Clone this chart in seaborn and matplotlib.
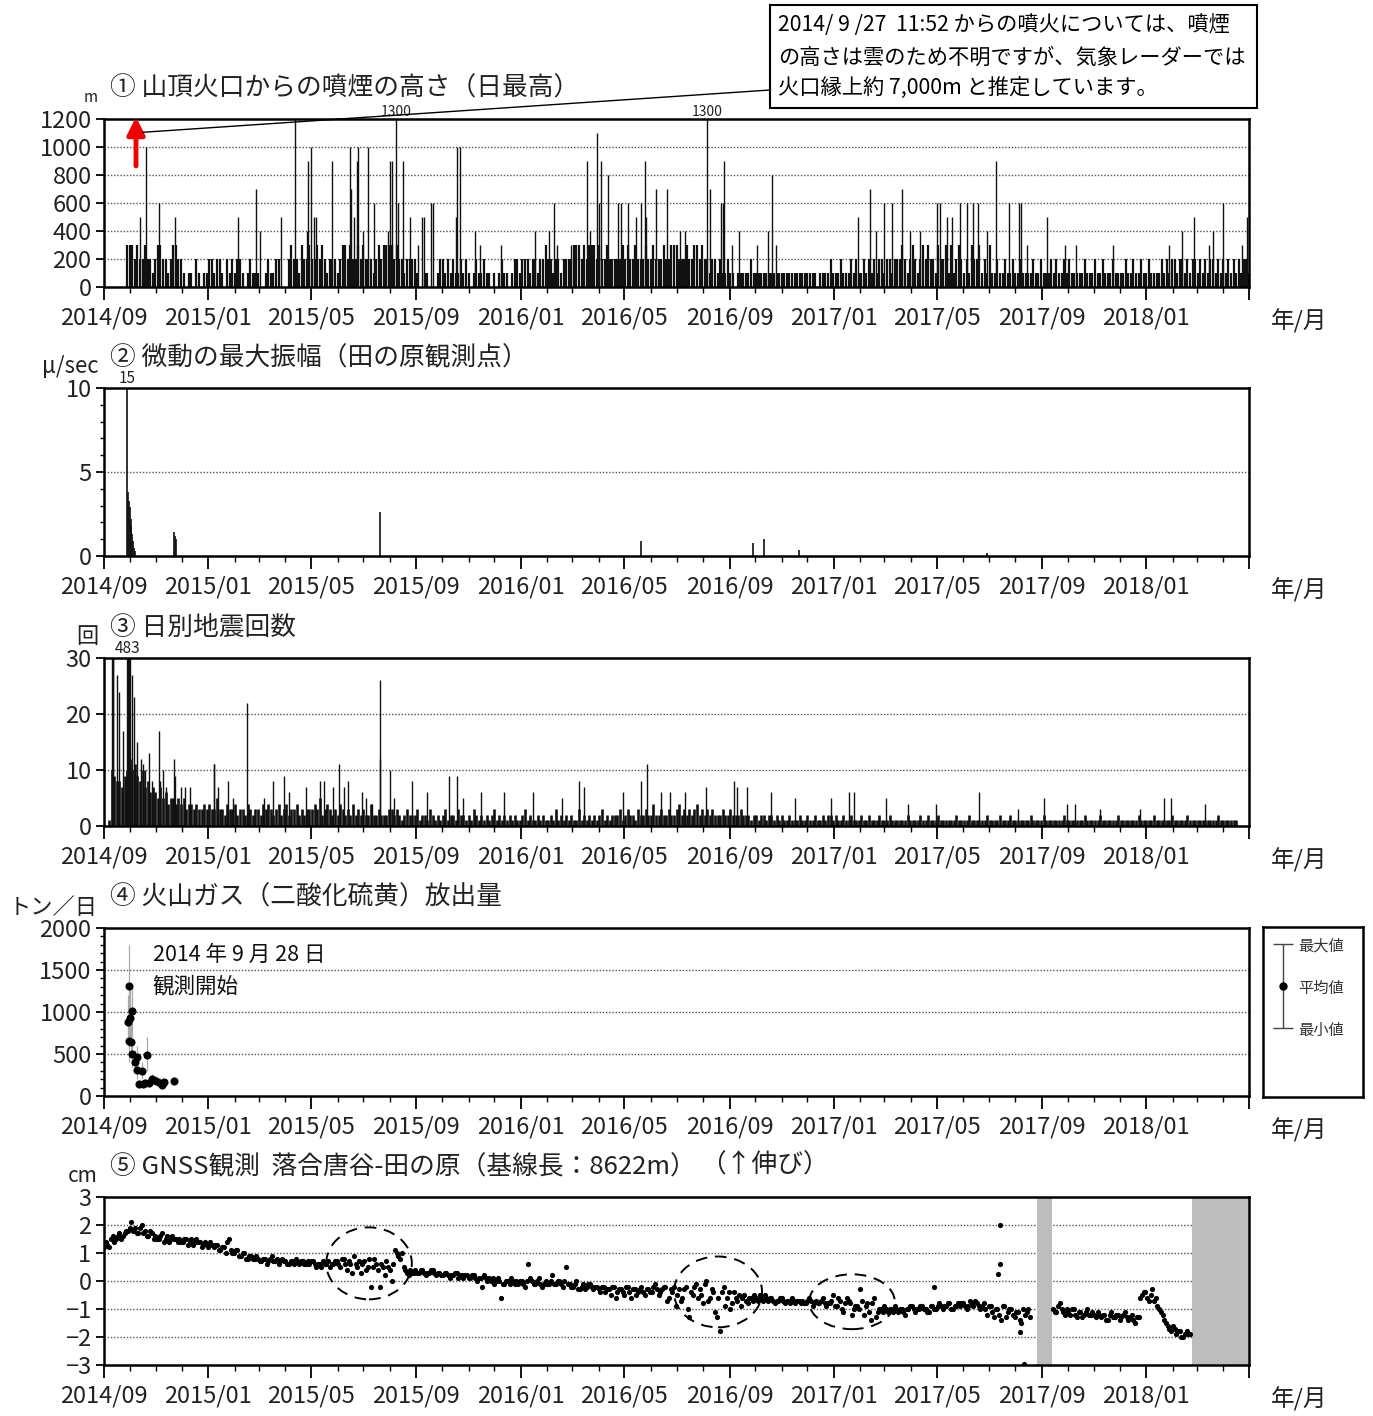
import pandas as pd
import matplotlib
matplotlib.use("Agg")
import matplotlib.pyplot as plt
import matplotlib.dates as mdates
from matplotlib.patches import Ellipse, Rectangle
from matplotlib import font_manager
import seaborn as sns

# 横軸の範囲 (日数は 2014/09/01 からの経過日)
START = pd.Timestamp("2014-09-01")
END = pd.Timestamp("2018-05-01")

# ① 噴煙の高さ: 3日ごとの基本値 (100m単位, 2014/09/28 から)
plume_base_100m = [
    3,
    3, 3, 2, 3, 2, 2, 3, 2, 2, 1,  2, 3, 3, 2, 2, 1, 2, 3, 3, 2,  2, 1, 0, 1, 1, 0, 2, 1, 0, 1,
    1, 2, 2, 1, 2, 2, 1, 0, 2, 1,  2, 1, 2, 2, 1, 0, 1, 2, 1, 1,  1, 0, 0, 1, 2, 1, 1, 2, 2, 0,
    0, 0, 2, 3, 2, 2, 1, 3, 2, 2,  3, 2, 2, 3, 2, 3, 2, 1, 2, 2,  2, 1, 2, 3, 3, 2, 3, 2, 2, 3,
    2, 3, 2, 2, 2, 1, 2, 3, 2, 3,  3, 3, 3, 2, 3, 2, 2, 1, 2, 2,  2, 2, 1, 0, 0, 1, 1, 0, 0, 0,
    1, 2, 2, 1, 2, 1, 2, 1, 1, 2,  1, 2, 1, 0, 1, 2, 1, 1, 2, 1,  1, 0, 1, 0, 1, 2, 1, 1, 0, 1,
    2, 2, 1, 2, 2, 2, 1, 2, 2, 1,  2, 2, 3, 2, 2, 1, 2, 2, 1, 2,  2, 2, 2, 3, 3, 3, 2, 3, 2, 3,
    3, 3, 2, 3, 2, 2, 3, 2, 2, 2,  2, 2, 3, 2, 3, 2, 2, 3, 2, 2,  2, 3, 2, 2, 3, 2, 2, 2, 3, 2,
    2, 3, 3, 3, 2, 2, 2, 3, 2, 2,  3, 3, 2, 3, 2, 2, 1, 2, 2, 1,  2, 1, 1, 2, 1, 1, 0, 1, 1, 1,
    1, 1, 2, 1, 1, 1, 1, 1, 1, 1,  1, 1, 1, 1, 1, 1, 1, 1, 1, 1,  1, 1, 1, 1, 1, 1, 1, 1, 0, 1,
    1, 1, 1, 2, 1, 1, 1, 2, 1, 1,  1, 2, 1, 2, 1, 1, 2, 1, 2, 1,  2, 1, 2, 2, 1, 2, 2, 1, 2, 2,
    2, 3, 2, 1, 2, 3, 2, 1, 2, 3,  2, 3, 2, 2, 1, 3, 2, 2, 3, 1,  3, 1, 2, 3, 2, 1, 2, 1, 3, 2,
    2, 3, 1, 2, 1, 3, 1, 1, 2, 1,  1, 2, 1, 1, 2, 1, 1, 2, 1, 1,  1, 1, 2, 1, 1, 2, 1, 1, 1, 2,
    1, 2, 1, 1, 2, 1, 2, 1, 1, 1,  1, 1, 2, 1, 1, 1, 2, 1, 1, 2,  1, 1, 1, 2, 1, 1, 1, 1, 2, 1,
    1, 2, 1, 1, 2, 1, 1, 2, 1, 1,  1, 1, 2, 1, 2, 1, 2, 2, 1, 2,  2, 1, 2, 1, 2, 2, 1, 2, 1, 2,
    1, 2, 2, 1, 2, 1, 2, 1, 2, 1,  2, 1, 2, 1, 2, 2, 1,
]
# ① 目立つ噴煙 (経過日, m)
plume_peak_day = [42, 49, 64, 83, 157, 178, 182, 207, 223, 237,
                  238, 242, 245, 248, 266, 287, 289, 292, 296, 297,
                  303, 308, 315, 332, 334, 336, 341, 344, 349, 358,
                  367, 372, 374, 382, 384, 411, 412, 416, 434, 439,
                  464, 504, 520, 526, 529, 546, 564, 568, 576, 578,
                  581, 589, 601, 604, 612, 622, 627, 632, 633, 645,
                  658, 673, 679, 705, 708, 721, 723, 724, 734, 742,
                  763, 776, 781, 785, 881, 895, 902, 911, 921, 932,
                  942, 953, 973, 977, 985, 991, 1000, 1008, 1015, 1021,
                  1032, 1042, 1057, 1069, 1072, 1079, 1102, 1123, 1136, 1179,
                  1244, 1260, 1274, 1291, 1296, 1308, 1330, 1336]
plume_peak_m = [500, 1000, 600, 500, 500, 700, 400, 500, 1200, 400,
                900, 1000, 500, 500, 900, 1000, 700, 500, 900, 1000,
                400, 1000, 600, 400, 900, 900, 1300, 600, 900, 500,
                300, 500, 500, 600, 600, 500, 1000, 1000, 400, 300,
                300, 400, 400, 600, 300, 300, 900, 400, 1100, 600,
                900, 800, 600, 600, 600, 500, 600, 900, 500, 700,
                700, 400, 400, 1300, 700, 600, 600, 900, 300, 400,
                300, 400, 800, 300, 500, 700, 400, 600, 600, 700,
                400, 400, 600, 600, 500, 500, 600, 600, 600, 600,
                400, 900, 600, 600, 600, 300, 500, 300, 300, 300,
                300, 400, 500, 300, 400, 600, 300, 500]

# ② 微動の最大振幅 (経過日, μm/s)
tremor_day = [27, 28, 29, 30, 31, 32, 33, 34, 35, 36, 82, 83, 84, 322, 627, 758, 771, 812, 1032]
tremor_amp = [15, 3.8, 3.3, 2.9, 2.2, 1.8, 1.3, 0.9, 0.5, 0.3, 1.4, 1.2, 1.0, 2.6, 0.9, 0.8, 1.0, 0.35, 0.2]

# ③ 日別地震回数: 3日ごとの基本値 (2014/09/01 から)
quake_base = [
    0, 0, 1, 10, 9, 8, 8, 7, 9, 10,  12, 10, 11, 9, 8, 10, 7, 8, 6, 7,  6, 5, 7, 5, 6, 4, 5, 5, 4, 5,
    4, 5, 3, 4, 4, 3, 4, 3, 3, 4,  3, 4, 3, 3, 5, 3, 3, 2, 4, 3,  3, 4, 2, 3, 3, 2, 4, 3, 2, 3,
    3, 2, 4, 3, 4, 3, 2, 3, 4, 2,  3, 4, 2, 3, 3, 4, 2, 3, 2, 3,  3, 3, 4, 3, 5, 2, 3, 4, 3, 2,
    3, 2, 4, 3, 2, 3, 2, 4, 2, 3,  2, 3, 2, 2, 4, 2, 2, 3, 2, 2,  2, 3, 3, 2, 3, 2, 1, 2, 3, 2,
    2, 2, 3, 1, 2, 2, 1, 3, 2, 1,  2, 1, 2, 3, 1, 2, 2, 1, 3, 2,  2, 1, 2, 1, 3, 2, 1, 2, 1, 2,
    1, 2, 3, 1, 2, 1, 2, 1, 2, 1,  2, 1, 1, 2, 3, 1, 2, 1, 1, 2,  1, 2, 1, 1, 2, 1, 3, 1, 2, 1,
    2, 1, 2, 1, 1, 3, 1, 2, 1, 2,  1, 2, 1, 2, 3, 1, 2, 1, 2, 2,  2, 3, 1, 2, 3, 2, 2, 1, 3, 2,
    2, 3, 2, 2, 4, 2, 2, 3, 2, 2,  3, 2, 2, 3, 4, 2, 3, 2, 3, 2,  3, 4, 2, 3, 2, 3, 2, 3, 2, 2,
    2, 3, 2, 2, 3, 2, 2, 2, 3, 2,  2, 2, 1, 2, 2, 1, 2, 2, 1, 2,  2, 1, 2, 1, 2, 1, 1, 2, 1, 1,
    1, 2, 1, 1, 2, 1, 1, 2, 1, 1,  2, 1, 2, 2, 1, 2, 1, 1, 2, 1,  1, 2, 1, 1, 1, 2, 1, 1, 2, 1,
    1, 1, 2, 1, 1, 1, 2, 1, 1, 1,  1, 1, 1, 2, 1, 1, 1, 1, 2, 1,  1, 2, 1, 1, 1, 2, 1, 1, 1, 1,
    1, 1, 2, 1, 1, 1, 1, 2, 1, 1,  1, 1, 1, 1, 2, 1, 1, 1, 1, 2,  1, 1, 1, 2, 1, 1, 1, 1, 1, 1,
    1, 2, 1, 1, 1, 1, 2, 1, 1, 1,  1, 1, 1, 1, 2, 1, 1, 1, 1, 1,  1, 1, 2, 1, 1, 1, 1, 1, 2, 1,
    1, 1, 1, 1, 1, 2, 1, 1, 1, 1,  1, 1, 1, 2, 1, 1, 1, 1, 1, 2,  1, 1, 1, 1, 1, 1, 2, 1, 1, 1,
    1, 1, 2, 1, 1, 1, 1, 1, 1, 1,  1, 1, 1, 1, 2, 1, 1, 1, 1, 1,  1, 1,
]
quake_peak_day = [9, 10, 11, 15, 17, 22, 27, 28, 29, 30,
                  33, 35, 38, 43, 46, 48, 53, 56, 64, 66,
                  69, 73, 82, 83, 90, 95, 100, 128, 129, 133,
                  145, 151, 167, 187, 198, 210, 216, 236, 252, 257,
                  268, 275, 280, 285, 301, 306, 313, 322, 323, 334,
                  339, 360, 378, 403, 412, 419, 440, 467, 501, 535,
                  555, 561, 607, 627, 635, 651, 661, 679, 703, 736,
                  740, 751, 780, 808, 850, 870, 876, 914, 940, 972,
                  1022, 1068, 1099, 1125, 1135, 1164, 1211, 1239, 1247, 1286]
quake_peak_n = [52, 85, 30, 27, 24, 17, 483, 90, 40, 30,
                27, 23, 15, 12, 11, 10, 13, 8, 17, 8,
                10, 7, 12, 9, 7, 7, 7, 11, 11, 7,
                8, 5, 22, 5, 8, 9, 6, 7, 8, 8,
                7, 11, 7, 8, 6, 5, 4, 26, 12, 10,
                5, 8, 6, 9, 9, 5, 6, 6, 6, 5,
                8, 7, 6, 8, 11, 6, 6, 6, 7, 8,
                7, 7, 6, 5, 5, 6, 6, 5, 4, 4,
                6, 3, 5, 4, 4, 3, 3, 5, 5, 4]

# ④ 二酸化硫黄放出量 (経過日, トン/日)
so2_day = [28, 29, 29, 30, 31, 33, 33, 36, 38, 39, 41, 44, 46, 48, 50, 53, 56, 61, 65, 68, 70, 82]
so2_mean = [880, 1310, 660, 930, 640, 1010, 500, 400, 460, 310, 140, 300, 140, 150, 490, 160, 200, 180, 160, 130, 170, 175]
so2_min = [600, 900, 400, 650, 450, 700, 350, 280, 300, 200, 100, 200, 100, 110, 300, 110, 150, 130, 120, 100, 120, 130]
so2_max = [1200, 1800, 900, 1300, 850, 1300, 650, 550, 600, 420, 190, 400, 190, 200, 700, 220, 260, 240, 210, 170, 220, 230]

# ⑤ GNSS 基線長変化 (cm): 4日ごと, 2014/09/01 から 2017/08 まで
gnss_a_cm = [
    1.2, 1.3, 1.5, 1.4, 1.6, 1.5, 1.7,  1.8, 2.1, 1.9, 1.7, 2.0, 1.8, 1.6, 1.7,
    1.6, 1.5, 1.7, 1.5, 1.4, 1.6, 1.5,  1.5, 1.4, 1.5, 1.4, 1.3, 1.5, 1.4, 1.3,
    1.3, 1.4, 1.2, 1.3, 1.1, 1.2, 1.4, 1.1,  1.0, 1.1, 0.9, 1.0, 0.8, 0.9, 0.8,
    0.8, 0.7, 0.8, 0.7, 0.9, 0.7, 0.6, 0.8,  0.7, 0.6, 0.7, 0.8, 0.6, 0.7, 0.6,
    0.6, 0.7, 0.5, 0.6, 0.7, 0.6, 0.5, 0.6,  0.7, 0.5, 0.8, 0.4, 0.6, 0.9, 0.5,
    0.3, 0.7, 0.5, -0.2, 0.8, 0.4, 0.6, 0.2,  0.5, 0.0, 1.1, 0.9, 1.0, 0.4, 0.2, 0.3,
    0.4, 0.3, 0.4, 0.2, 0.3, 0.4, 0.2,  0.3, 0.2, 0.3, 0.1, 0.2, 0.3, 0.2, 0.1,
    0.2, 0.1, 0.2, 0.0, 0.1, 0.2, 0.0,  0.0, -0.1, 0.1, -0.6, -0.1, 0.0, 0.1, -0.1,
    -0.1, 0.0, -0.2, 0.6, 0.0, -0.1, 0.1, -0.2,  0.0, -0.1, 0.2, -0.1, 0.0, -0.2, 0.5,
    -0.1, -0.2, 0.0, -0.3, -0.1, -0.2, -0.1, -0.3,  -0.2, -0.4, -0.2, -0.3, -0.5, -0.2, -0.4,
    -0.3, -0.5, -0.2, -0.6, -0.3, -0.4, -0.2, -0.5,  -0.3, -0.4, -0.1, -0.5, -0.3, -0.2, -0.6,
    -0.4, -0.9, -0.3, -0.6, -0.2, -1.3, -0.5, -0.1,  -0.3, -0.8, 0.0, -0.6, -0.4, -1.3, -1.8, -0.2,
    -0.6, -1.0, -0.4, -0.7, -0.9, -0.5, -0.8,  -0.6, -0.5, -0.7, -0.6, -0.5, -0.7, -0.6, -0.8,
    -0.7, -0.6, -0.8, -0.7, -0.6, -0.8, -0.7,  -0.7, -0.8, -0.6, -0.9, -0.7, -0.8, -0.6, -0.9,
    -0.8, -0.5, -0.9, -0.7, -1.1, -0.6, -0.8, -1.0,  -0.9, -0.3, -1.2, -0.8, -1.4, -0.6, -1.1,
    -1.0, -0.9, -1.1, -1.0, -0.9, -1.1, -1.0, -1.2,  -1.0, -0.9, -1.1, -1.0, -0.9, -1.0, -1.1,
    -0.9, -1.0, -0.8, -1.0, -0.9, -0.8, -1.0, -0.9,  -0.9, -0.8, -1.0, -0.7, -0.9, -0.8, -1.0,
    -0.8, -1.2, -0.9, -1.3, -1.0, -1.4, -0.9, -1.1,  -1.0, -1.3, -1.1, -1.5, -1.2, -1.0,
]
# 同じ期間の間の日 (4日ごと, 2014/09/03 から)
gnss_a2_cm = [
    1.4, 1.2, 1.6, 1.5, 1.7, 1.6, 1.8,  1.9, 1.8, 1.7, 1.9, 1.7, 1.6, 1.8, 1.5,
    1.5, 1.6, 1.4, 1.6, 1.5, 1.5, 1.4,  1.4, 1.5, 1.3, 1.5, 1.4, 1.4, 1.2, 1.4,
    1.2, 1.3, 1.3, 1.1, 1.2, 1.0, 1.5, 1.0,  1.1, 0.9, 1.0, 0.8, 0.9, 0.8, 0.9,
    0.7, 0.8, 0.6, 0.8, 0.7, 0.8, 0.7, 0.7,  0.6, 0.7, 0.6, 0.7, 0.7, 0.6, 0.7,
    0.7, 0.6, 0.6, 0.5, 0.6, 0.7, 0.6, 0.7,  0.6, 0.8, 0.6, 0.7, 0.3, 0.6, 0.7,
    0.6, 0.4, 0.8, 0.5, 0.6, -0.2, 0.5, 0.7,  0.4, 0.6, 1.0, 0.8, 0.5, 0.3, 0.4, 0.3,
    0.3, 0.4, 0.3, 0.3, 0.4, 0.3, 0.3,  0.2, 0.3, 0.2, 0.2, 0.3, 0.1, 0.2, 0.2,
    0.1, 0.2, 0.1, 0.1, -0.2, 0.1, 0.1,  0.1, 0.0, 0.0, -0.1, 0.0, -0.1, 0.0, 0.0,
    0.0, -0.1, 0.0, 0.1, -0.1, 0.0, -0.1, -0.1,  -0.1, 0.0, -0.1, 0.0, -0.1, 0.0, -0.1,
    -0.2, -0.1, -0.3, -0.2, -0.3, -0.1, -0.2, -0.2,  -0.3, -0.2, -0.4, -0.3, -0.2, -0.6, -0.3,
    -0.4, -0.2, -0.4, -0.3, -0.5, -0.3, -0.4, -0.3,  -0.4, -0.2, -0.3, -0.4, -0.2, -0.7, -0.3,
    -0.2, -0.5, -0.7, -0.3, -1.0, -0.4, -0.2, -0.6,  -0.5, -0.1, -0.7, -0.3, -1.1, -0.6, -0.4, -0.9,
    -0.4, -0.8, -0.6, -0.5, -0.6, -0.7, -0.6,  -0.7, -0.6, -0.5, -0.7, -0.6, -0.6, -0.7, -0.7,
    -0.6, -0.7, -0.7, -0.8, -0.7, -0.7, -0.8,  -0.8, -0.7, -0.7, -0.8, -0.8, -0.7, -0.8, -0.8,
    -0.7, -0.9, -0.6, -1.0, -0.8, -0.7, -1.2, -0.9,  -1.0, -0.7, -0.9, -1.1, -0.8, -1.3, -1.0,
    -1.1, -1.0, -1.0, -1.1, -1.0, -1.0, -1.1, -1.0,  -0.9, -1.0, -1.0, -0.9, -1.0, -1.1, -0.9,
    -1.0, -0.9, -0.9, -0.9, -0.8, -1.0, -0.9, -0.8,  -0.8, -0.9, -0.9, -0.8, -0.7, -0.9, -0.9,
    -1.0, -0.9, -1.1, -1.0, -1.2, -0.9, -1.3, -1.0,  -1.2, -1.1, -1.4, -1.0, -1.1, -1.3,
]
# 欠測後: 4日ごと, 2017/09/14 と 2017/09/16 から
gnss_b_cm = [
    -1.0, -1.1, -0.8, -1.1, -1.0, -1.2, -1.0, -1.3, -1.1, -1.2, -1.0, -1.2,
    -1.2, -1.1, -1.3, -1.2, -1.4, -1.1, -1.3, -1.2, -1.3, -1.1, -1.4, -1.2,
    -1.5, -1.3, -0.5, -0.4, -0.7, -0.3, -0.6, -1.0, -1.2, -1.5, -1.7, -1.6,
    -1.9, -1.8, -2.0, -1.8, -1.9,
]
gnss_b2_cm = [
    -1.1, -0.9, -1.0, -1.2, -1.1, -1.0, -1.2, -1.1, -1.3, -1.1, -1.2, -1.1,
    -1.3, -1.2, -1.2, -1.4, -1.2, -1.3, -1.2, -1.4, -1.2, -1.3, -1.3, -1.4,
    -1.3, -0.6, -0.4, -0.6, -0.5, -0.7, -0.9, -1.1, -1.4, -1.6, -1.8, -1.7,
    -1.8, -2.0, -1.9, -1.9,
]
gnss_out_day = [970, 1047, 1047, 1045, 1070, 1075]
gnss_out_cm = [-0.2, 2.0, 0.62, 0.24, -1.82, -2.95]
gnss_missing = [("2017-08-26", "2017-09-13"), ("2018-02-23", "2018-05-01")]

# ---- 体裁 ----
sns.set_theme(style="ticks")
plt.rcParams["font.family"] = ["Noto Sans CJK JP", "DejaVu Sans"]
names = {f.name for f in font_manager.fontManager.ttflist}
if "Liberation Sans Narrow" in names:
    num_font, num_size = ["Liberation Sans Narrow", "DejaVu Sans"], 19
else:
    num_font, num_size = ["Noto Sans CJK JP", "DejaVu Sans"], 17

W, H = 1373, 1416
fig = plt.figure(figsize=(W / 100, H / 100), dpi=100)
fig.patch.set_facecolor("white")


def fx(px):
    return px / W


def fy(py):
    return 1 - py / H


def day(d):
    return START + pd.to_timedelta(pd.Series(d, dtype=float), unit="D")


tops = [119, 388, 658, 928, 1197]
axes = [fig.add_axes([fx(104), fy(t + 168), fx(1249) - fx(104), 168 / H]) for t in tops]

major = pd.date_range(START, END, freq="4MS")
major_lab = [d.strftime("%Y/%m") for d in major[:-1]] + [""]
minor = pd.date_range(START, END, freq="MS")


def style(ax, ylim, yticks, ylabels, grid, yminor=()):
    ax.set_xlim(START, END)
    ax.set_ylim(*ylim)
    ax.set_xticks(major, major_lab, fontfamily=num_font)
    ax.set_xticks(minor, minor=True)
    ax.set_yticks(yticks, ylabels, fontfamily=num_font)
    ax.set_yticks(list(yminor), minor=True)
    ax.tick_params(axis="x", which="major", direction="out", length=9, width=1.3,
                   pad=5, labelsize=num_size, color="black", labelcolor="#222")
    ax.tick_params(axis="x", which="minor", direction="out", length=4, width=1.0, color="black")
    ax.tick_params(axis="y", which="major", direction="out", length=6, width=1.3,
                   pad=3, labelsize=num_size, color="black", labelcolor="#222")
    ax.tick_params(axis="y", which="minor", direction="out", length=3, width=1.0, color="black")
    for s in ax.spines.values():
        s.set_visible(True)
        s.set_linewidth(1.8)
        s.set_color("black")
    for g in grid:
        ax.axhline(g, color="#555", lw=1.0, ls=(0, (1, 1.3)), zorder=0)
    ax.set_xlabel("")
    ax.set_ylabel("")
    ax.set_facecolor("white")


titles = ["① 山頂火口からの噴煙の高さ（日最高）", "② 微動の最大振幅（田の原観測点）",
          "③ 日別地震回数", "④ 火山ガス（二酸化硫黄）放出量",
          "⑤ GNSS観測  落合唐谷-田の原（基線長：8622m）"]
units = [("m", 11), ("μ/sec", 16), ("回", 16), ("トン／日", 16), ("cm", 15)]
for t, title, (u, us) in zip(tops, titles, units):
    fig.text(fx(110), fy(t - 30), title, ha="left", va="center", fontsize=18.5, color="#222")
    fig.text(fx(98), fy(t - 21), u, ha="right", va="center", fontsize=us, color="#222")
    fig.text(fx(1299), fy(t + 168 + 34), "年/月", ha="center", va="center", fontsize=17, color="#222")
fig.text(fx(700), fy(1166), "（↑伸び）", ha="left", va="center", fontsize=18.5, color="#222")

# ① 噴煙
ax1 = axes[0]
base_days = [27 + 3 * i for i in range(len(plume_base_100m))]
ax1.vlines(day(base_days), 0, [v * 100 for v in plume_base_100m], color="#111", lw=1.6)
ax1.vlines(day(plume_peak_day), 0, plume_peak_m, color="#111", lw=1.0)
style(ax1, (0, 1200), range(0, 1201, 200), [str(v) for v in range(0, 1201, 200)],
      [200, 400, 600, 800, 1000])
for d in [341, 705]:
    ax1.text(day([d])[0], 1203, "1300", ha="center", va="bottom", fontsize=10,
             fontfamily=num_font, color="#222", clip_on=False)
ax1.annotate("", xy=(day([37.4])[0], 1215), xytext=(day([37.4])[0], 865),
             arrowprops=dict(arrowstyle="-|>", color="#ee0000", lw=3.5, mutation_scale=26,
                             shrinkA=0, shrinkB=0), annotation_clip=False)
ax1.annotate("", xy=(fx(770), fy(90)), xycoords="figure fraction",
             xytext=(day([45])[0], 1105), textcoords="data",
             arrowprops=dict(arrowstyle="-", color="black", lw=1.0, shrinkA=0, shrinkB=0),
             annotation_clip=False)
fig.add_artist(Rectangle((fx(770), fy(108)), fx(1257) - fx(770), (108 - 5) / H,
                         transform=fig.transFigure, fill=False, lw=1.5, ec="black"))
box_lines = ["2014/ 9 /27  11:52 からの噴火については、噴煙",
             "の高さは雲のため不明ですが、気象レーダーでは",
             "火口縁上約 7,000m と推定しています。"]
for y, line in zip([25, 58, 89], box_lines):
    fig.text(fx(778), fy(y), line, ha="left", va="center", fontsize=15.3, color="black")

# ② 微動
ax2 = axes[1]
ax2.vlines(day(tremor_day), 0, tremor_amp, color="#111", lw=1.2)
style(ax2, (0, 10), [0, 5, 10], ["0", "5", "10"], [5], yminor=[1, 2, 3, 4, 6, 7, 8, 9])
ax2.text(day([27])[0], 10.05, "15", ha="center", va="bottom", fontsize=11,
         fontfamily=num_font, color="#222", clip_on=False)

# ③ 地震回数
ax3 = axes[2]
q_days = [3 * i for i in range(len(quake_base))]
ax3.vlines(day(q_days), 0, quake_base, color="#111", lw=1.9)
ax3.vlines(day(quake_peak_day), 0, quake_peak_n, color="#111", lw=1.0)
style(ax3, (0, 30), [0, 10, 20, 30], ["0", "10", "20", "30"], [10, 20])
ax3.text(day([27])[0], 30.1, "483", ha="center", va="bottom", fontsize=11,
         fontfamily=num_font, color="#222", clip_on=False)

# ④ 火山ガス
ax4 = axes[3]
so2_dates = day(so2_day)
ax4.vlines(so2_dates, so2_min, so2_max, color="#aaaaaa", lw=0.9, zorder=2)
sns.scatterplot(x=so2_dates, y=so2_mean, ax=ax4, color="black", s=34, linewidth=0,
                zorder=3, legend=False)
style(ax4, (0, 2000), [0, 500, 1000, 1500, 2000], ["0", "500", "1000", "1500", "2000"],
      [500, 1000, 1500], yminor=[v for v in range(100, 2000, 100) if v % 500])
ax4.text(day([57])[0], 1680, "2014 年 9 月 28 日", ha="left", va="center", fontsize=15.5, color="#111")
ax4.text(day([57])[0], 1300, "観測開始", ha="left", va="center", fontsize=15.5, color="#111")

lg = fig.add_axes([fx(1263), fy(1097), fx(1363) - fx(1263), (1097 - 927) / H])
lg.set_xlim(0, 1)
lg.set_ylim(0, 1)
lg.set_xticks([])
lg.set_yticks([])
for s in lg.spines.values():
    s.set_visible(True)
    s.set_linewidth(1.8)
    s.set_color("black")
lg.vlines(0.2, 0.405, 0.9, color="#444", lw=1.0)
lg.hlines([0.9, 0.405], 0.1, 0.3, color="#444", lw=1.0)
lg.plot([0.2], [0.653], "o", color="black", ms=5)
for y, lab in zip([0.888, 0.641, 0.394], ["最大値", "平均値", "最小値"]):
    lg.text(0.35, y, lab, ha="left", va="center", fontsize=11, color="#333")

# ⑤ GNSS
ax5 = axes[4]
for a, b in gnss_missing:
    ax5.axvspan(pd.Timestamp(a), pd.Timestamp(b), color="#bdbdbd", lw=0, zorder=1)
ga = pd.date_range(START, periods=len(gnss_a_cm), freq="4D")
ga2 = pd.date_range("2014-09-03", periods=len(gnss_a2_cm), freq="4D")
gb = pd.date_range("2017-09-14", periods=len(gnss_b_cm), freq="4D")
gb2 = pd.date_range("2017-09-16", periods=len(gnss_b2_cm), freq="4D")
gnss = pd.DataFrame({"date": list(ga) + list(ga2) + list(gb) + list(gb2) + list(day(gnss_out_day)),
                     "cm": gnss_a_cm + gnss_a2_cm + gnss_b_cm + gnss_b2_cm + gnss_out_cm})
sns.scatterplot(data=gnss, x="date", y="cm", ax=ax5, color="black", s=14, linewidth=0,
                zorder=3, legend=False)
style(ax5, (-3, 3), [-3, -2, -1, 0, 1, 2, 3], ["−3", "−2", "−1", "0", "1", "2", "3"],
      [-2, -1, 0, 1, 2])
for cd, cv, w, h in [(309.7, 0.63, 100, 2.57), (717.5, -0.39, 103, 2.53), (874, -0.74, 100, 1.96)]:
    ax5.add_patch(Ellipse((mdates.date2num(day([cd])[0]), cv), w, h, fill=False,
                          ec="black", lw=1.4, ls=(0, (6, 4)), zorder=4))

fig.savefig("out.png", dpi=100, facecolor="white")
